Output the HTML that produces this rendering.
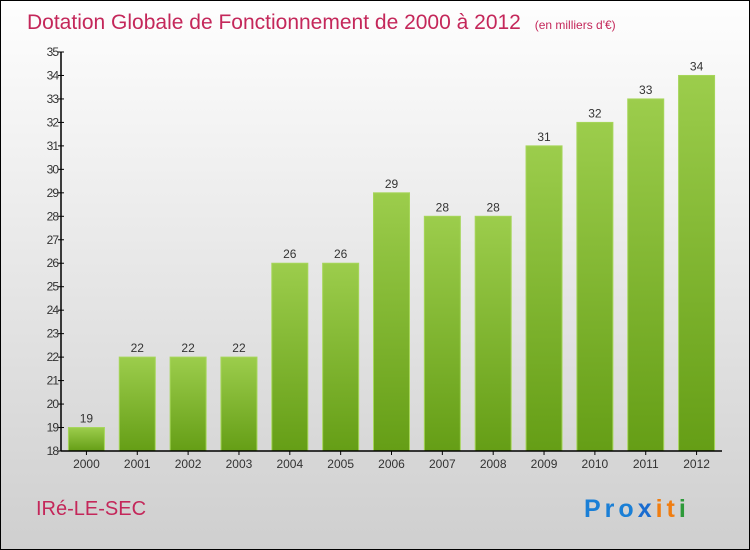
<!DOCTYPE html>
<html><head><meta charset="utf-8"><style>
body{margin:0;}
#c{width:748px;height:548px;border:1px solid #000;background:linear-gradient(#fefefe,#cfcfcf);position:relative;overflow:hidden;font-family:"Liberation Sans",sans-serif;}
svg{position:absolute;left:0;top:0}
</style></head><body>
<div id="c">
<svg width="748" height="548" id="s">
<defs><linearGradient id="g" x1="0" y1="0" x2="0" y2="1"><stop offset="0" stop-color="#9ccd4c"/><stop offset="1" stop-color="#659e16"/></linearGradient></defs>
<text x="26" y="28" font-size="21" fill="#c4275a">Dotation Globale de Fonctionnement de 2000 à 2012 <tspan font-size="12" dx="8">(en milliers d'€)</tspan></text>
<text x="35" y="514" font-size="20" fill="#c4275a">IRé-LE-SEC</text>
<text x="583" y="516" font-size="25" font-weight="bold" letter-spacing="4"><tspan fill="#1a7fd6">Pro</tspan><tspan fill="#1a6cd0">x</tspan><tspan fill="#f07d10">it</tspan><tspan fill="#2e9a3a">i</tspan></text>
</svg>
</div>
<script>
const years=["2000","2001","2002","2003","2004","2005","2006","2007","2008","2009","2010","2011","2012"];
const values=[19,22,22,22,26,26,29,28,28,31,32,33,34];
const yTicks=[18,19,20,21,22,23,24,25,26,27,28,29,30,31,32,33,34,35];
const s=document.getElementById('s');const NS='http://www.w3.org/2000/svg';
const x0=60,x1=721,yB=450,yT=51,vMin=18,vMax=35;
const y=v=>yB-(v-vMin)*(yB-yT)/(vMax-vMin);
const band=(x1-x0)/years.length;
const xc=i=>x0+band*(i+0.5);
function mk(t,a){const e=document.createElementNS(NS,t);for(const k in a)e.setAttribute(k,a[k]);s.appendChild(e);return e;}
values.forEach((v,i)=>{
 const r=mk('rect',{x:xc(i)-18,y:y(v),width:36,height:yB-y(v),fill:'url(#g)',stroke:'#a6d65a','stroke-width':1});
 
 
 const t=mk('text',{x:xc(i),y:y(v)-5,'font-size':12,fill:'#333','text-anchor':'middle'});t.textContent=v;
 
 
 const xl=mk('text',{x:xc(i),y:yB+17,'font-size':12,fill:'#333','text-anchor':'middle'});xl.textContent=years[i];
 
 
 const tk=mk('line',{x1:xc(i),x2:xc(i),y1:yB,y2:yB+4,stroke:'#000'});
 
 
});
yTicks.forEach(v=>{
 const l=mk('line',{x1:x0-3,x2:x0+3,y1:y(v),y2:y(v),stroke:'#000'});
 
 
 const t=mk('text',{x:x0-3,y:y(v)+4,'font-size':12,fill:'#333','text-anchor':'end','letter-spacing':'-1'});t.textContent=v;
 
 
});
const ya=mk('line',{x1:x0,x2:x0,y1:yT,y2:yB,stroke:'#000','stroke-width':1.5});


const xa=mk('line',{x1:x0,x2:x1,y1:yB,y2:yB,stroke:'#000','stroke-width':1.5});


</script>
</body></html>
